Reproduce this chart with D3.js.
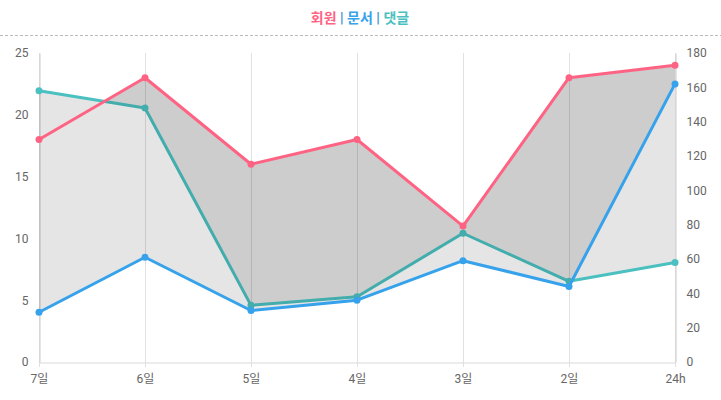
<!DOCTYPE html>
<html>
<head>
<meta charset="utf-8">
<script src="https://cdn.jsdelivr.net/npm/d3@7"></script>
<style>
  body { margin: 0; background: #fff; }
  svg { display: block; font-family: Roboto, "Noto Sans CJK KR", sans-serif; }
</style>
</head>
<body>
<svg id="canvas" width="721" height="400"></svg>
<script>
// chart data
var labels = ["7일", "6일", "5일", "4일", "3일", "2일", "24h"];
var members = [18, 23, 16, 18, 11, 23, 24];          // 회원 - left axis
var documents = [29, 61, 30, 36, 59, 44, 162];       // 문서 - right axis
var comments = [158, 148, 33, 38, 75, 47, 58];       // 댓글 - right axis
var leftTicks = [0, 5, 10, 15, 20, 25];
var rightTicks = [0, 20, 40, 60, 80, 100, 120, 140, 160, 180];

var pink = "#ff6384", blue = "#36a2eb", teal = "#4bc0c0";

var svg = d3.select("#canvas");
// chart area (window.top is reserved, so use other names)
var areaTop = 53, areaBottom = 362, areaLeft = 39, areaRight = 675;

var x = d3.scalePoint().domain(labels).range([areaLeft, areaRight]);
var yL = d3.scaleLinear().domain([0, 25]).range([areaBottom, areaTop]);
var yR = d3.scaleLinear().domain([0, 180]).range([areaBottom, areaTop]);

// title
var title = svg.append("text")
    .attr("x", 360).attr("y", 23)
    .attr("text-anchor", "middle")
    .attr("font-size", 14).attr("font-weight", "bold");
title.append("tspan").attr("fill", pink).text("회원");
title.append("tspan").attr("fill", "#3b8fd6").text(" | ");
title.append("tspan").attr("fill", blue).text("문서");
title.append("tspan").attr("fill", "#3b8fd6").text(" | ");
title.append("tspan").attr("fill", teal).text("댓글");

svg.append("line")
    .attr("x1", 0).attr("x2", 721).attr("y1", 35.5).attr("y2", 35.5)
    .attr("stroke", "#bbb").attr("stroke-dasharray", "3,2");

// vertical grid lines
svg.append("g").selectAll("line").data(labels).enter().append("line")
    .attr("x1", function(d) { return x(d) + 0.5; })
    .attr("x2", function(d) { return x(d) + 0.5; })
    .attr("y1", areaTop).attr("y2", areaBottom + 5)
    .attr("stroke", "#e1e1e1");

// axes
var gx = svg.append("g").attr("transform", "translate(0," + (areaBottom + 0.5) + ")")
    .call(d3.axisBottom(x).tickSize(0).tickPadding(12));
var gl = svg.append("g").attr("transform", "translate(" + (areaLeft + 0.5) + ",0)")
    .call(d3.axisLeft(yL).tickValues(leftTicks).tickSize(0).tickPadding(11));
var gr = svg.append("g").attr("transform", "translate(" + (areaRight + 0.5) + ",0)")
    .call(d3.axisRight(yR).tickValues(rightTicks).tickSize(0).tickPadding(11));
[gx, gl, gr].forEach(function(g) {
    g.select(".domain").attr("stroke", "#d9d9d9");
    g.selectAll("text").attr("fill", "#666").attr("font-size", 12)
        .attr("font-family", "Roboto, 'Noto Sans CJK KR', sans-serif");
});
gl.select(".domain").attr("stroke", "#ccc");
gr.select(".domain").attr("stroke", "#ccc");

var idx = d3.range(labels.length);
function px(i) { return x(labels[i]); }

// fill between 회원 and 댓글
svg.append("path").datum(idx)
    .attr("d", d3.area().x(px)
        .y0(function(i) { return yR(comments[i]); })
        .y1(function(i) { return yL(members[i]); }))
    .attr("fill", "rgba(0,0,0,0.1)");

function drawLine(vals, scale, color) {
    svg.append("path").datum(idx)
        .attr("d", d3.line().x(px).y(function(i) { return scale(vals[i]); }))
        .attr("fill", "none").attr("stroke", color).attr("stroke-width", 3)
        .attr("stroke-linejoin", "round");
    svg.append("g").selectAll("circle").data(idx).enter().append("circle")
        .attr("cx", px).attr("cy", function(i) { return scale(vals[i]); })
        .attr("r", 3.5).attr("fill", color);
}

drawLine(comments, yR, teal);

// fill between 회원 and 문서 (drawn over the 댓글 line)
svg.append("path").datum(idx)
    .attr("d", d3.area().x(px)
        .y0(function(i) { return yR(documents[i]); })
        .y1(function(i) { return yL(members[i]); }))
    .attr("fill", "rgba(0,0,0,0.1)");

drawLine(documents, yR, blue);
drawLine(members, yL, pink);
</script>
</body>
</html>
